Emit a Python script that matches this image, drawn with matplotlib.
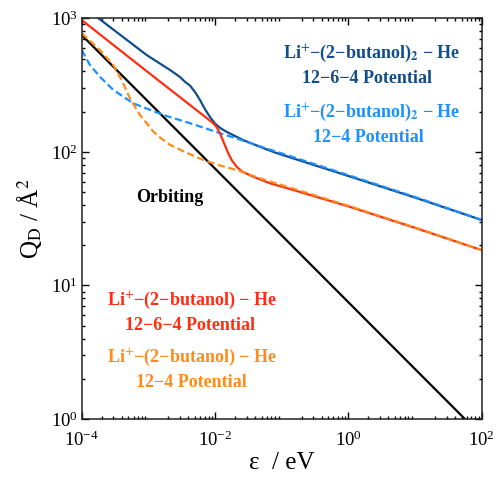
import matplotlib
matplotlib.use("Agg")
import matplotlib.pyplot as plt
from matplotlib.ticker import LogLocator, NullFormatter

plt.rcParams['font.family'] = ['Liberation Serif', 'DejaVu Serif']
plt.rcParams['mathtext.fontset'] = 'stix'

# ---- data ----
# Li+-(2-butanol)2 - He, 12-6-4 potential
dimer_1264_x = [1.7e-4, 9.44e-4, 2.12e-3, 2.98e-3, 3.54e-3, 4.21e-3, 5.01e-3, 5.95e-3,
                7.07e-3, 8.40e-3, 9.99e-3, 0.01229, 0.01512, 0.01993, 0.02627, 0.0371,
                0.0524, 0.0793, 0.1243, 1.0, 10.0, 100.0]
dimer_1264_y = [1020, 531, 410, 364, 335, 314, 281, 245,
                209, 182.5, 163.2, 149.6, 140.9, 131.5, 122.8, 114.6,
                107, 99, 92, 66, 45.5, 30.9]

# Li+-(2-butanol)2 - He, 12-4 potential
dimer_124_x = [1e-4, 1.33e-4, 1.88e-4, 2.98e-4, 5.94e-4, 1.67e-3, 4.21e-3, 6.67e-3,
               0.01187, 0.0211, 0.053, 0.1256, 1.0, 10.0, 100.0]
dimer_124_y = [579, 447, 365, 291, 231, 189, 164, 152,
               138, 126, 108, 94, 67, 46, 31.0]

# Li+-(2-butanol) - He, 12-6-4 potential
mono_1264_x = [1e-4, 1e-3, 7.32e-3, 9.42e-3, 0.01070, 0.01187, 0.01363, 0.01581,
               0.01797, 0.02113, 0.02538, 0.0375, 0.0668, 0.1256, 1.0, 10.0, 100.0]
mono_1264_y = [971, 393, 181, 163.7, 152.2, 137.8, 116.6, 97.6,
               86.2, 77.5, 71.3, 65.2, 58.2, 53.2, 39.1, 27.0, 18.4]

# Li+-(2-butanol) - He, 12-4 potential
mono_124_x = [1e-4, 1.88e-4, 2.98e-4, 3.98e-4, 5.30e-4, 7.48e-4, 1.19e-3, 1.494e-3,
              2.11e-3, 3.54e-3, 6.67e-3, 0.01187, 0.0211, 0.0472, 0.1256, 1.0, 10.0, 100.0]
mono_124_y = [773, 579, 447, 345, 252, 189, 142, 128.2,
              113, 99.8, 87, 79.1, 73.2, 63.4, 54.5, 39.5, 27.2, 18.4]

# Orbiting limit
orbit_x = [1e-4, 100.0]
orbit_y = [750, 0.75]

c_dark = '#104E8B'
c_light = '#1E90FF'
c_red = '#FF2D12'
c_orange = '#FF8C1A'

fig = plt.figure(figsize=(4.98, 4.78), dpi=100)
ax = fig.add_axes([0.164, 0.1234, 0.803, 0.8383])

lw = 1.6
ax.plot(orbit_x, orbit_y, color='black', lw=lw)
ax.plot(dimer_1264_x, dimer_1264_y, color=c_dark, lw=lw)
ax.plot(dimer_124_x, dimer_124_y, color=c_light, lw=lw, dashes=(3.3, 1.6))
ax.plot(mono_1264_x, mono_1264_y, color=c_red, lw=lw)
ax.plot(mono_124_x, mono_124_y, color=c_orange, lw=lw, dashes=(3.3, 1.6))

ax.set_xscale('log')
ax.set_yscale('log')
ax.set_xlim(1e-4, 1e2)
ax.set_ylim(1, 1e3)

ax.set_xticks([1e-4, 1e-2, 1e0, 1e2])
ax.xaxis.set_minor_locator(LogLocator(base=10, subs=range(2, 10), numticks=100))
ax.xaxis.set_minor_formatter(NullFormatter())
ax.yaxis.set_minor_locator(LogLocator(base=10, subs=range(2, 10), numticks=100))
ax.yaxis.set_minor_formatter(NullFormatter())

ax.tick_params(which='both', direction='in', top=True, right=True, labelsize=13.5, width=1.0)
ax.tick_params(which='major', length=5)
ax.tick_params(which='minor', length=2.5)
ax.tick_params(axis='x', pad=8)
ax.tick_params(axis='y', pad=3)
for s in ax.spines.values():
    s.set_linewidth(1.1)
    s.set_color('#222222')

ax.set_xlabel('ε  / eV', fontsize=18, labelpad=2)
ax.set_ylabel(r'Q$_\mathrm{D}$ / Å$^2$', fontsize=18, labelpad=5)

tk = dict(transform=ax.transAxes, ha='center', va='baseline', fontsize=13, fontweight='bold')
ax.text(0.725, 0.9002, r'Li$^{+}$−(2−butanol)$_{\mathbf{2}}$ − He', color=c_dark, **tk)
ax.text(0.7125, 0.8378, '12−6−4 Potential', color=c_dark, **tk)
ax.text(0.725, 0.7537, r'Li$^{+}$−(2−butanol)$_{\mathbf{2}}$ − He', color=c_light, **tk)
ax.text(0.718, 0.6913, '12−4 Potential', color=c_light, **tk)
ax.text(0.275, 0.2845, r'Li$^{+}$−(2−butanol) − He', color=c_red, **tk)
ax.text(0.271, 0.2221, '12−6−4 Potential', color=c_red, **tk)
ax.text(0.275, 0.143, r'Li$^{+}$−(2−butanol) − He', color=c_orange, **tk)
ax.text(0.275, 0.0806, '12−4 Potential', color=c_orange, **tk)
ax.text(0.2195, 0.5423, 'Orbiting', color='black', **tk)

fig.savefig('out.png', dpi=100)
